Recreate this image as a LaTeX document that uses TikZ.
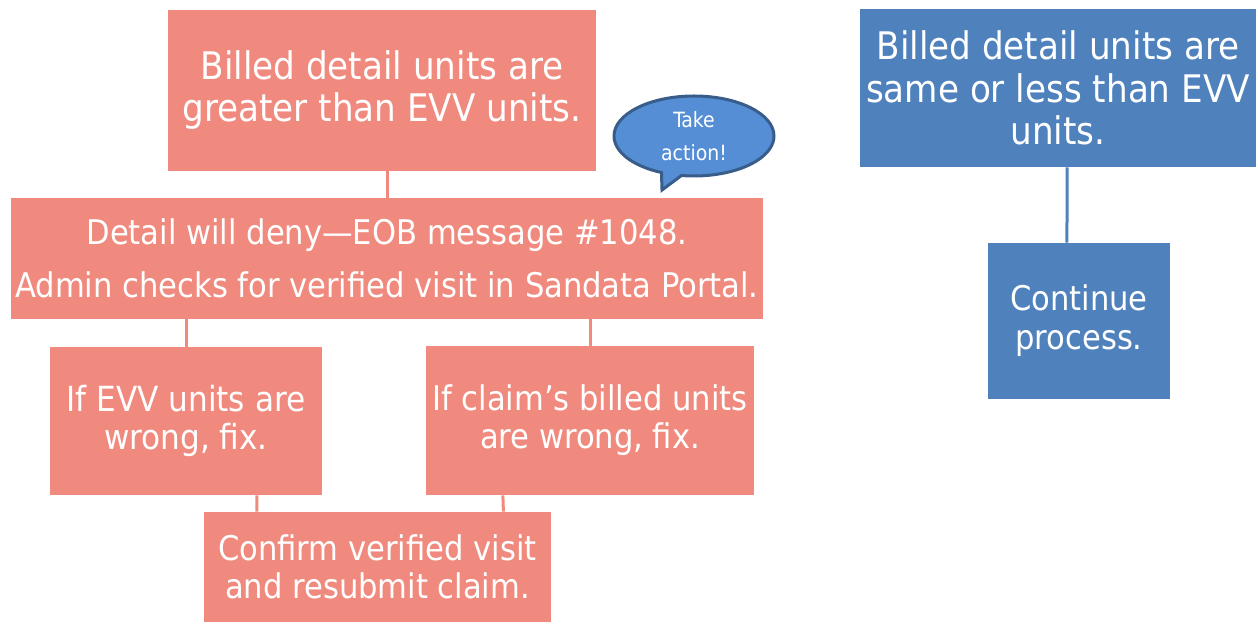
\documentclass[tikz,border=0pt]{standalone}
\usepackage{fontspec}
\setmainfont{DejaVu Sans Condensed}
\usetikzlibrary{
    calc,
    shapes.callouts
}
\definecolor{salmon}{RGB}{240,138,126}
\definecolor{steel}{RGB}{79,129,189}
\definecolor{bubble}{RGB}{85,142,213}
\definecolor{bubbleedge}{RGB}{56,93,138}

\begin{document}
\begin{tikzpicture}[x=0.5pt,y=-0.5pt,
    box/.style={rectangle, text=white, align=center, inner sep=0pt},
    pinkbox/.style={box, fill=salmon},
    bluebox/.style={box, fill=steel},
    pinkline/.style={salmon, line width=1.5pt},
    blueline/.style={steel, line width=1.5pt}]
    \useasboundingbox (0,0) rectangle (1258,624);

    % over the EVV units
    \node[pinkbox, minimum width=214pt, minimum height=80.5pt,
          font=\fontsize{19}{21}\selectfont] (greater) at (382,90.5)
          {Billed detail units are\\greater than EVV units.};
    \node[pinkbox, minimum width=376pt, minimum height=60.5pt,
          font=\fontsize{17}{26.5}\selectfont] (deny) at (387,258.5)
          {Detail will deny---EOB message \#1048.\\Admin checks for verified visit in Sandata Portal.};
    \node[pinkbox, minimum width=136pt, minimum height=74pt,
          font=\fontsize{17.3}{19}\selectfont] (evvfix) at (186,421)
          {If EVV units are\\wrong, fix.};
    \node[pinkbox, minimum width=164pt, minimum height=74.5pt,
          font=\fontsize{17}{19}\selectfont] (claimfix) at (590,420.5)
          {If claim’s billed units\\are wrong, fix.};
    \node[pinkbox, minimum width=173.5pt, minimum height=55pt,
          font=\fontsize{17}{19}\selectfont] (resubmit) at (377.5,567)
          {Confirm verified visit\\and resubmit claim.};

    \node[ellipse callout, fill=bubble, draw=bubbleedge, line width=1.5pt,
          callout absolute pointer={(662,190)}, minimum width=80pt, minimum height=40pt,
          inner sep=0pt, text=white, align=center,
          font=\fontsize{10.5}{16.5}\selectfont] (action) at (694,136)
          {Take\\action!};

    \draw[pinkline] (deny.north) -- (deny.north |- greater.south);
    \draw[pinkline] (evvfix.north) -- (evvfix.north |- deny.south);
    \draw[pinkline] (claimfix.north) -- (claimfix.north |- deny.south);
    \draw[pinkline] ($(evvfix.south west)!.76!(evvfix.south east)$)
        -- ($(resubmit.north west)!.153!(resubmit.north east)$);
    \draw[pinkline] ($(claimfix.south west)!.235!(claimfix.south east)$)
        -- ($(resubmit.north west)!.862!(resubmit.north east)$);

    % within the EVV units
    \node[bluebox, minimum width=198pt, minimum height=79pt,
          font=\fontsize{19}{21.25}\selectfont] (within) at (1058,88)
          {Billed detail units are\\same or less than EVV\\units.};
    \node[bluebox, minimum width=91pt, minimum height=78pt,
          font=\fontsize{17}{19.5}\selectfont] (cont) at (1079,321)
          {Continue\\process.};

    \draw[blueline] ($(within.south west)!.523!(within.south east)$)
        -- ($(cont.north west)!.434!(cont.north east)$);
\end{tikzpicture}
\end{document}
